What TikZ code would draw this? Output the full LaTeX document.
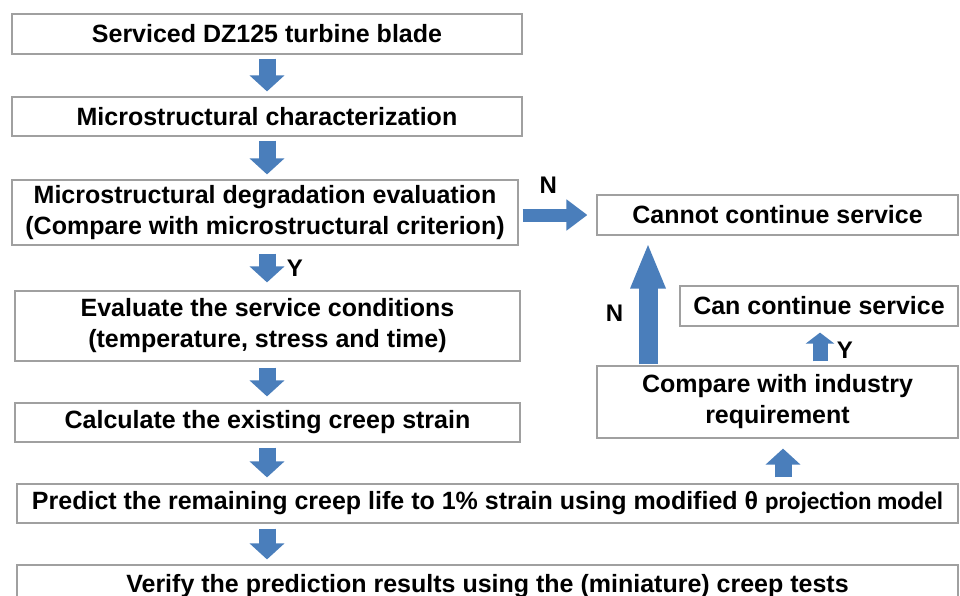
\documentclass[tikz,border=0pt]{standalone}
\usepackage{fontspec}
\setmainfont{Liberation Sans}
\newfontfamily\calfont{Carlito}
\usetikzlibrary{arrows.meta}
\definecolor{arrowblue}{RGB}{74,126,187}
\definecolor{boxgray}{RGB}{160,160,160}
\tikzset{
	box/.style={draw=boxgray, line width=1.2pt, fill=white, inner sep=0pt, align=center,
		text=black, font=\fontsize{25}{31}\selectfont\bfseries},
	flow/.style={arrowblue, line width=17pt, -{Triangle[width=34pt,length=16pt]},
		shorten <=4pt, shorten >=5pt},
	flowthin/.style={flow, line width=13pt, -{Triangle[width=30pt,length=21pt]}},
	flowlong/.style={flow, line width=19pt, -{Triangle[width=32pt,length=46pt]}},
	flowsmall/.style={flow, line width=15pt, -{Triangle[width=28pt,length=11pt]}},
	yn/.style={text=black, font=\fontsize{24}{28}\selectfont\bfseries}
}

\begin{document}
\begin{tikzpicture}[x=1pt,y=-1pt]
	\useasboundingbox (0,0) rectangle (960,595);
	\clip (0,0) rectangle (960,595);

	% --- Left column ---
	\node[box, minimum width=510pt, minimum height=40pt] (blade) at (267,34) {Serviced DZ125 turbine blade};
	\node[box, minimum width=510pt, minimum height=39pt] (charac) at (267,116.5) {Microstructural characterization};
	\node[box, minimum width=506pt, minimum height=65pt] (degrad) at (265,212.5)
		{Microstructural degradation evaluation\\(Compare with microstructural criterion)};
	\node[box, minimum width=505pt, minimum height=70pt] (cond) at (267.5,326)
		{Evaluate the service conditions\\(temperature, stress and time)};
	\node[box, minimum width=505pt, minimum height=39pt] (strain) at (267.5,422.5) {Calculate the existing creep strain};
	\node[box, minimum width=941pt, minimum height=39pt] (predict) at (487.5,503.5)
		{Predict the remaining creep life to 1\% strain using modified θ {\calfont projection model}};
	\node[box, minimum width=941pt, minimum height=42pt] (verify) at (487.5,586)
		{Verify the prediction results using the (miniature) creep tests};

	% --- Right column ---
	\node[box, minimum width=361pt, minimum height=40pt] (cannot) at (777.5,215) {Cannot continue service};
	\node[box, minimum width=278pt, minimum height=40pt] (can) at (819,306) {Can continue service};
	\node[box, minimum width=361pt, minimum height=72pt] (compare) at (777.5,402)
		{Compare with industry\\requirement};

	\coordinate (colL) at (267,0);
	\coordinate (colN) at (648,0);
	\coordinate (colY) at (820,0);
	\coordinate (colP) at (783,0);

	% --- Arrows ---
	\draw[flow] (blade.south -| colL) -- (charac.north -| colL);
	\draw[flow] (charac.south -| colL) -- (degrad.north -| colL);
	\draw[flow, shorten <=8pt, shorten >=8pt] (degrad.south -| colL) -- (cond.north -| colL)
		node[yn, pos=0.5, right=8pt] {Y};
	\draw[flow, shorten <=6pt, shorten >=6pt] (cond.south -| colL) -- (strain.north -| colL);
	\draw[flow, shorten <=5pt, shorten >=6pt] (strain.south -| colL) -- (predict.north -| colL);
	\draw[flow, shorten <=5pt, shorten >=5pt] (predict.south -| colL) -- (verify.north -| colL);
	\draw[flowthin, shorten <=4pt, shorten >=9pt] (degrad.east |- cannot) -- (cannot.west)
		node[yn, pos=0.38, above=12pt] {N};
	\draw[flowlong, shorten <=1pt, shorten >=7pt] (compare.north -| colN) -- (cannot.south -| colN)
		node[yn, pos=0.4, left=12pt] {N};
	\draw[flowsmall, shorten <=4pt, shorten >=6pt] (compare.north -| colY) -- (can.south -| colY)
		node[yn, pos=0.4, right=6pt] {Y};
	\draw[flow, shorten <=6pt, shorten >=10pt] (predict.north -| colP) -- (compare.south -| colP);
\end{tikzpicture}
\end{document}
